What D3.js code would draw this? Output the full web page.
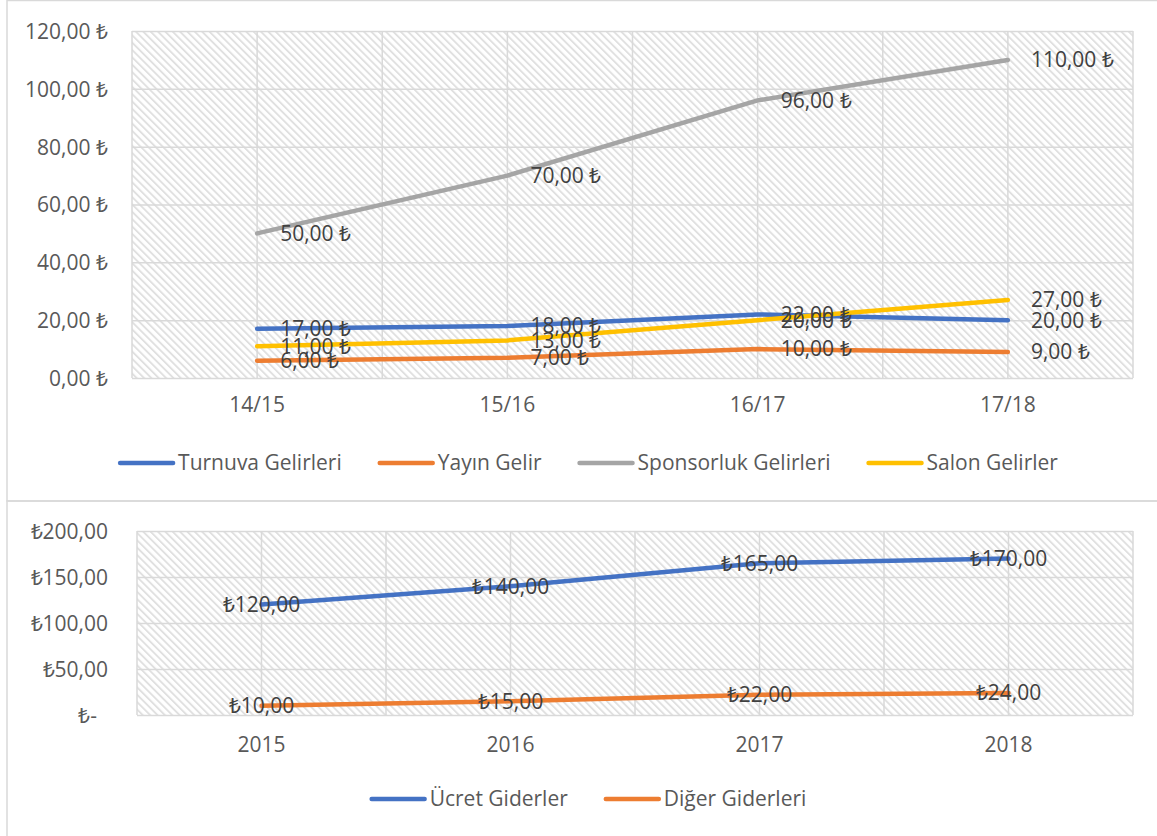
<!DOCTYPE html>
<html>
<head>
<meta charset="utf-8">
<script src="https://cdn.jsdelivr.net/npm/d3@7"></script>
<style>
  html, body { margin: 0; padding: 0; background: #fff; }
  svg { display: block; font-family: "Open Sans", Carlito, Calibri, sans-serif; }
</style>
</head>
<body>
<svg id="chart" width="1157" height="836"></svg>
<script>
// ---------- DATA ----------
const topCategories = ["14/15", "15/16", "16/17", "17/18"];
const topSeriesNames = ["Turnuva Gelirleri", "Yayın Gelir", "Sponsorluk Gelirleri", "Salon Gelirler"];
const turnuvaGelirleri = [17, 18, 22, 20];
const yayinGelir = [6, 7, 10, 9];
const sponsorlukGelirleri = [50, 70, 96, 110];
const salonGelirler = [11, 13, 20, 27];
const topTicks = [0, 20, 40, 60, 80, 100, 120];

const bottomCategories = ["2015", "2016", "2017", "2018"];
const bottomSeriesNames = ["Ücret Giderler", "Diğer Giderleri"];
const ucretGiderler = [120, 140, 165, 170];
const digerGiderleri = [10, 15, 22, 24];
const bottomTicks = [0, 50, 100, 150, 200];

// ---------- STYLE ----------
const colors = ["#4472C4", "#ED7D31", "#A5A5A5", "#FFC000"];
const gridColor = "#d9d9d9";
const axisText = "#595959";
const labelText = "#404040";
const fontSize = 21;
const fontFam = "'Open Sans', Carlito, Calibri, sans-serif";

const svg = d3.select("#chart");
const defs = svg.append("defs");
const pat = defs.append("pattern")
  .attr("id", "hatch").attr("patternUnits", "userSpaceOnUse")
  .attr("width", 5.2).attr("height", 5.2)
  .attr("patternTransform", "rotate(-45)");
pat.append("rect").attr("width", 5.2).attr("height", 5.2).attr("fill", "#fff");
pat.append("rect").attr("width", 1.9).attr("height", 5.2).attr("fill", "#e0e0e0");

const fmtTL = d3.formatLocale({decimal: ",", thousands: ".", grouping: [3], currency: ["", ""]}).format(",.2f");

// chart frames
svg.append("rect").attr("x", 7).attr("y", 0.5).attr("width", 1160).attr("height", 500.5)
  .attr("fill", "none").attr("stroke", gridColor).attr("stroke-width", 1.5);
svg.append("rect").attr("x", 7).attr("y", 501).attr("width", 1160).attr("height", 345)
  .attr("fill", "none").attr("stroke", gridColor).attr("stroke-width", 1.5);

function drawChart(cfg) {
  const g = svg.append("g");
  const x = d3.scaleBand().domain(cfg.categories).range([cfg.left, cfg.right]).padding(0);
  const y = d3.scaleLinear().domain([cfg.ticks[0], cfg.ticks[cfg.ticks.length - 1]]).range([cfg.bottom, cfg.top]);
  const cx = d => x(d) + x.bandwidth() / 2;

  g.append("rect").attr("x", cfg.left).attr("y", cfg.top)
    .attr("width", cfg.right - cfg.left).attr("height", cfg.bottom - cfg.top)
    .attr("fill", "url(#hatch)");

  // horizontal gridlines via axis
  const yGrid = g.append("g").attr("transform", `translate(${cfg.left},0)`)
    .call(d3.axisLeft(y).tickValues(cfg.ticks).tickSize(-(cfg.right - cfg.left)).tickFormat(""));
  yGrid.select(".domain").remove();
  yGrid.selectAll("line").attr("stroke", gridColor).attr("stroke-width", 1.5);

  // vertical gridlines: band edges and centres
  const vx = [];
  cfg.categories.forEach(c => { vx.push(x(c)); vx.push(cx(c)); });
  vx.push(cfg.right);
  g.selectAll(".vg").data(vx).join("line")
    .attr("x1", d => d).attr("x2", d => d).attr("y1", cfg.top).attr("y2", cfg.bottom)
    .attr("stroke", gridColor).attr("stroke-width", 1.5);

  // y tick labels
  const yAx = g.append("g").attr("transform", `translate(${cfg.labelX},0)`)
    .call(d3.axisLeft(y).tickValues(cfg.ticks).tickSize(0).tickPadding(0).tickFormat(cfg.yFormat));
  yAx.select(".domain").remove();
  yAx.selectAll("text").attr("fill", axisText).attr("font-size", fontSize)
    .attr("font-family", fontFam).attr("dy", "0.35em");

  // x tick labels
  const xAx = g.append("g").attr("transform", `translate(0,${cfg.xLabelY})`)
    .call(d3.axisBottom(x).tickSize(0).tickPadding(0));
  xAx.select(".domain").remove();
  xAx.selectAll("text").attr("fill", axisText).attr("font-size", fontSize)
    .attr("font-family", fontFam).attr("dy", "0.35em");

  const line = d3.line().x((d, i) => cx(cfg.categories[i])).y(d => y(d));

  cfg.series.forEach((s, k) => {
    g.append("path").datum(s).attr("d", line).attr("fill", "none")
      .attr("stroke", colors[k]).attr("stroke-width", 4.5)
      .attr("stroke-linecap", "round").attr("stroke-linejoin", "round");
  });
  cfg.series.forEach((s, k) => {
    g.selectAll(null).data(s).join("text")
      .attr("x", (d, i) => cx(cfg.categories[i]) + cfg.labelDx)
      .attr("y", d => y(d)).attr("dy", "0.35em")
      .attr("text-anchor", cfg.labelAnchor)
      .attr("fill", labelText).attr("font-size", fontSize)
      .text(cfg.labelFormat);
  });

  // legend
  const lg = g.append("g");
  const items = cfg.names.map((n, k) => {
    const it = lg.append("g");
    it.append("line").attr("x1", 0).attr("x2", 53).attr("y1", 0).attr("y2", 0)
      .attr("stroke", colors[k]).attr("stroke-width", 4.5).attr("stroke-linecap", "round");
    const t = it.append("text").attr("x", 58).attr("dy", "0.35em").attr("fill", axisText)
      .attr("font-size", fontSize).text(n);
    return {g: it, w: 58 + t.node().getComputedTextLength()};
  });
  const gap = 38;
  const total = d3.sum(items, d => d.w) + gap * (items.length - 1);
  let pos = cfg.legendCenter - total / 2;
  items.forEach(it => { it.g.attr("transform", `translate(${pos},${cfg.legendY})`); pos += it.w + gap; });
}

drawChart({
  categories: topCategories, names: topSeriesNames,
  series: [turnuvaGelirleri, yayinGelir, sponsorlukGelirleri, salonGelirler],
  ticks: topTicks, left: 132, right: 1133, top: 31, bottom: 378,
  labelX: 108, xLabelY: 405,
  yFormat: d => fmtTL(d) + " ₺",
  labelFormat: d => fmtTL(d) + " ₺", labelDx: 23, labelAnchor: "start",
  legendY: 463, legendCenter: 589
});

drawChart({
  categories: bottomCategories, names: bottomSeriesNames,
  series: [ucretGiderler, digerGiderleri],
  ticks: bottomTicks, left: 137, right: 1133, top: 531, bottom: 715,
  labelX: 108, xLabelY: 745,
  yFormat: d => d === 0 ? "₺-\u00A0\u00A0" : "₺" + fmtTL(d),
  labelFormat: d => "₺" + fmtTL(d), labelDx: 0, labelAnchor: "middle",
  legendY: 799, legendCenter: 589
});
</script>
</body>
</html>
